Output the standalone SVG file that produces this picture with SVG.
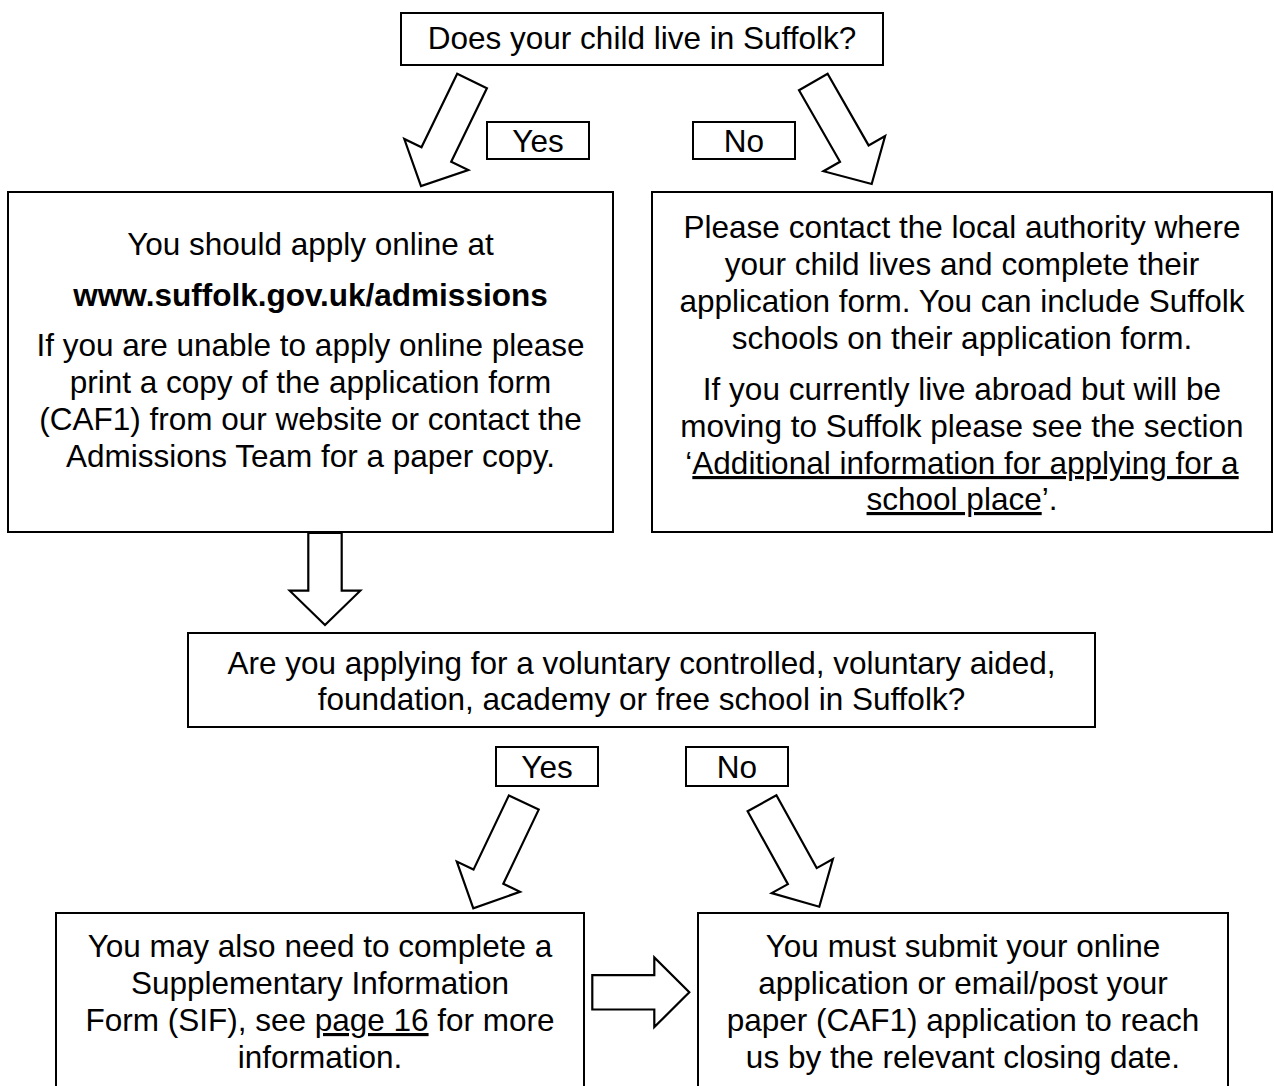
<svg xmlns="http://www.w3.org/2000/svg" width="1274" height="1086" viewBox="0 0 1274 1086">
<style>
.box{fill:#fff;stroke:#000;stroke-width:2}
.arr{fill:#fff;stroke:#000;stroke-width:2.2;stroke-linejoin:miter}
text{font-family:"Liberation Sans",Arial,sans-serif;font-size:31.5px;fill:#000;text-anchor:middle}
.b{font-weight:bold}
.u{text-decoration:underline}
</style>
<rect width="1274" height="1086" fill="#fff"/>
<g id="connectors">
<polygon class="arr" points="457.2,73.8 486.9,88.2 451.2,161.7 468.3,170 421,186 404.3,139 421.5,147.3"/>
<polygon class="arr" points="799,90.2 827.6,73.8 868.6,145.4 885.1,136 871.7,184 823.5,171.2 840,161.8"/>
<polygon class="arr" points="308.3,533 341.7,533 341.7,590.7 360.3,590.7 325,625 289.7,590.7 308.3,590.7"/>
<polygon class="arr" points="508.9,795.4 538.7,809.6 503.3,883.8 520,891.8 473.3,908.3 456.8,861.6 473.5,869.6"/>
<polygon class="arr" points="747.6,811.3 776.4,795.3 816.7,868.1 832.9,859.1 819.3,906.7 771.7,893.1 787.9,884.1"/>
<polygon class="arr" points="592.3,975.1 654.3,975.1 654.3,957.5 689.3,992.3 654.3,1027.1 654.3,1009.5 592.3,1009.5"/>
</g>
<g id="q1">
<rect class="box" x="401" y="13" width="482" height="52"/>
<text x="642" y="49">Does your child live in Suffolk?</text>
</g>
<g id="yes1">
<rect class="box" x="487" y="122" width="102" height="37"/>
<text x="538" y="152">Yes</text>
</g>
<g id="no1">
<rect class="box" x="693" y="122" width="102" height="37"/>
<text x="744" y="152">No</text>
</g>
<g id="apply">
<rect class="box" x="8" y="192" width="605" height="340"/>
<text x="310.5" y="255">You should apply online at</text>
<text x="310.5" y="306" class="b">www.suffolk.gov.uk/admissions</text>
<text x="310.5" y="356">If you are unable to apply online please</text>
<text x="310.5" y="393">print a copy of the application form</text>
<text x="310.5" y="430">(CAF1) from our website or contact the</text>
<text x="310.5" y="467">Admissions Team for a paper copy.</text>
</g>
<g id="other">
<rect class="box" x="652" y="192" width="620" height="340"/>
<text x="962" y="238">Please contact the local authority where</text>
<text x="962" y="275">your child lives and complete their</text>
<text x="962" y="312">application form. You can include Suffolk</text>
<text x="962" y="349">schools on their application form.</text>
<text x="962" y="400">If you currently live abroad but will be</text>
<text x="962" y="437">moving to Suffolk please see the section</text>
<text x="962" y="474">‘<tspan class="u">Additional information for applying for a</tspan></text>
<text x="962" y="510"><tspan class="u">school place</tspan>’.</text>
</g>
<g id="q2">
<rect class="box" x="188" y="633" width="907" height="94"/>
<text x="641.5" y="674">Are you applying for a voluntary controlled, voluntary aided,</text>
<text x="641.5" y="710">foundation, academy or free school in Suffolk?</text>
</g>
<g id="yes2">
<rect class="box" x="496" y="747" width="102" height="39"/>
<text x="547" y="778">Yes</text>
</g>
<g id="no2">
<rect class="box" x="686" y="747" width="102" height="39"/>
<text x="737" y="778">No</text>
</g>
<g id="sif">
<rect class="box" x="56" y="913" width="528" height="190"/>
<text x="320" y="957">You may also need to complete a</text>
<text x="320" y="994">Supplementary Information</text>
<text x="320" y="1031">Form (SIF), see <tspan class="u">page 16</tspan> for more</text>
<text x="320" y="1068">information.</text>
</g>
<g id="submit">
<rect class="box" x="698" y="913" width="530" height="190"/>
<text x="963" y="957">You must submit your online</text>
<text x="963" y="994">application or email/post your</text>
<text x="963" y="1031">paper (CAF1) application to reach</text>
<text x="963" y="1068">us by the relevant closing date.</text>
</g>
</svg>
